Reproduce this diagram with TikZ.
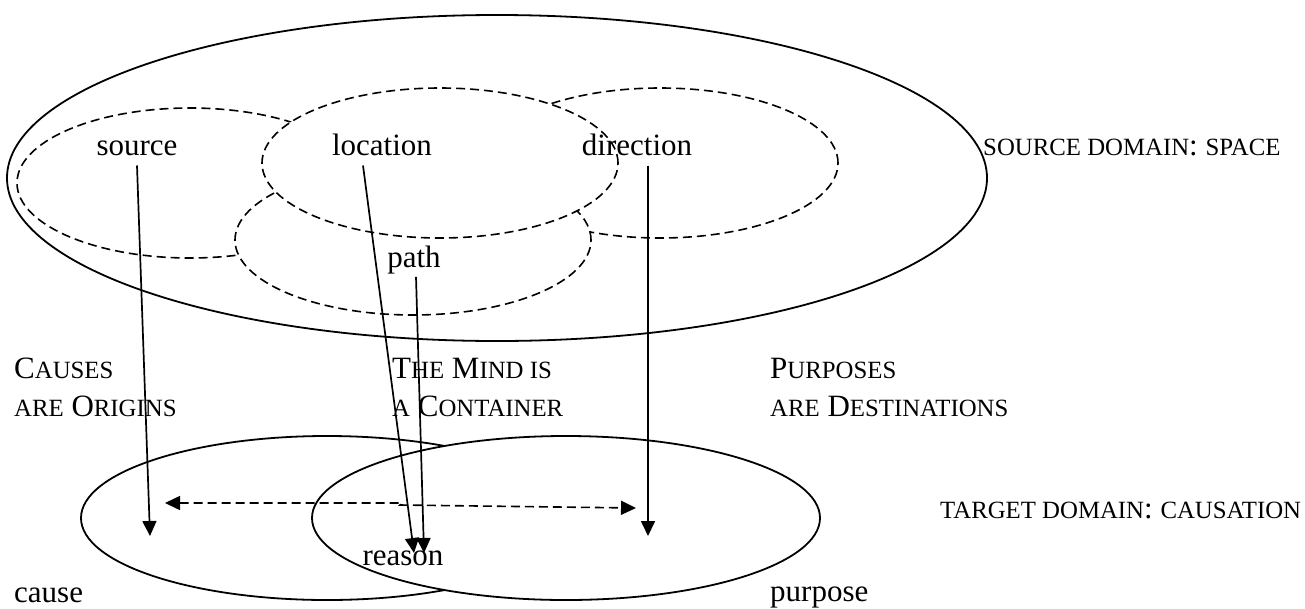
\documentclass[tikz,border=0pt]{standalone}
\usepackage{fontspec}
\setmainfont{Liberation Serif}
\usetikzlibrary{arrows.meta}
\newcommand{\sm}[1]{{\fontsize{24.8pt}{30pt}\selectfont #1}}
\begin{document}
\begin{tikzpicture}[x=1pt,y=-1pt,
  solidell/.style={line width=1.8pt},
  dashell/.style={line width=1.6pt,dash pattern=on 9pt off 5pt,fill=white},
  lowell/.style={line width=1.8pt,fill=white},
  lbl/.style={inner sep=0pt,font=\fontsize{31pt}{37pt}\selectfont},
  tip/.style={},
  arr/.style={line width=1.7pt,-{Triangle[length=15pt,width=14pt]}},
  darr/.style={line width=1.6pt,dash pattern=on 9pt off 5pt,{Triangle[length=15pt,width=14pt]}-{Triangle[length=15pt,width=14pt]}}]
\useasboundingbox (0,0) rectangle (1305,608);
% source domain
\draw[solidell] (497,178) ellipse [x radius=490pt, y radius=163pt];
\draw[dashell] (190,183) ellipse [x radius=173pt, y radius=75pt];
\draw[dashell] (660,163) ellipse [x radius=178pt, y radius=75pt];
\draw[dashell] (413,240) ellipse [x radius=178pt, y radius=75pt];
\draw[dashell] (440,163) ellipse [x radius=178pt, y radius=75pt];
% target domain
\draw[lowell] (327,518) ellipse [x radius=246pt, y radius=82pt];
\draw[lowell] (566,518) ellipse [x radius=254pt, y radius=82pt];
% labels
\node[lbl,anchor=base] (source) at (137,155) {source};
\node[lbl,anchor=base] (location) at (382,155) {location};
\node[lbl,anchor=base] (direction) at (637,155) {direction};
\node[lbl,anchor=base] (path) at (414,267) {path};
\node[lbl,anchor=base west] (sdom) at (983,155) {\sm{SOURCE DOMAIN}: \sm{SPACE}};
\node[lbl,anchor=base west] (tdom) at (940,518) {\sm{TARGET DOMAIN}: \sm{CAUSATION}};
\node[lbl,anchor=base west] (m1a) at (14,378) {C\sm{AUSES}};
\node[lbl,anchor=base west] (m1b) at (14,416) {\sm{ARE} O\sm{RIGINS}};
\node[lbl,anchor=base west] (m2a) at (392,378) {T\sm{HE} M\sm{IND IS}};
\node[lbl,anchor=base west] (m2b) at (392,416) {\sm{A} C\sm{ONTAINER}};
\node[lbl,anchor=base west] (m3a) at (770,378) {P\sm{URPOSES}};
\node[lbl,anchor=base west] (m3b) at (770,416) {\sm{ARE} D\sm{ESTINATIONS}};
\node[lbl,anchor=base] (reason) at (403,565) {reason};
\node[lbl,anchor=base west] (cause) at (14,602) {cause};
\node[lbl,anchor=base west] (purpose) at (770,601) {purpose};
% arrow ends
\coordinate (tc) at (150,536);
\coordinate (tl) at (414,553);
\coordinate (tp) at (424,553);
\coordinate (td) at (648,536);
\coordinate (dl) at (165,503);
\coordinate (dm1) at (402,503);
\coordinate (dm2) at (400,505);
\coordinate (dr) at (636,508);
% arrows
\draw[arr] ([yshift=-10pt]source.south) -- (tc);
\draw[arr] ([xshift=-19pt,yshift=-10pt]location.south) -- (tl);
\draw[arr] ([xshift=2pt,yshift=-3pt]path.south) -- (tp);
\draw[arr] ([xshift=11pt,yshift=-10pt]direction.south) -- (td);
\draw[darr] (dl) -- (dm1) -- (dm2) -- (dr);
\end{tikzpicture}
\end{document}
